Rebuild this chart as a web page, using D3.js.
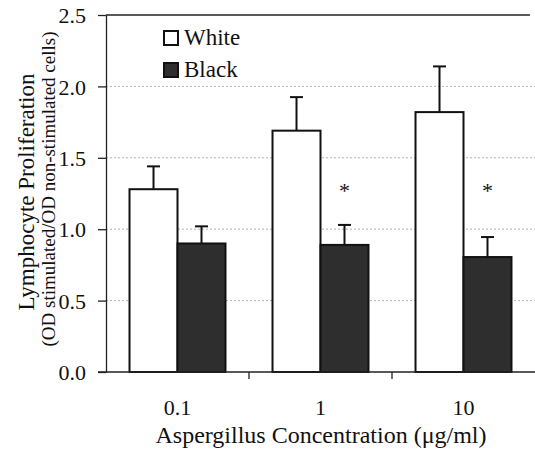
<!DOCTYPE html>
<html><head><meta charset="utf-8">
<script src="https://cdn.jsdelivr.net/npm/d3@7"></script>
<style>body{margin:0;background:#fff}svg{display:block}text{font-family:"Liberation Serif","Times New Roman",serif;fill:#111}</style>
</head><body><svg id="c" width="535" height="449"></svg>
<script>
const categories = ["0.1", "1", "10"];
const seriesNames = ["White", "Black"];
const whiteValues = [1.28, 1.69, 1.82];
const whiteErrors = [0.16, 0.235, 0.32];
const blackValues = [0.90, 0.89, 0.805];
const blackErrors = [0.12, 0.14, 0.14];
const asteriskLevel = [null, 1.22, 1.22];
const yTicks = [0, 0.5, 1.0, 1.5, 2.0, 2.5];

const svg = d3.select("#c");
const m = {left:106, right:535, top:15, bottom:372};
const x0 = d3.scaleBand().domain(categories).range([m.left, m.right]).padding(0);
const x1 = d3.scaleBand().domain(seriesNames).range([0, x0.bandwidth()]).paddingInner(0).paddingOuter(0.49);
const y = d3.scaleLinear().domain([0, 2.5]).range([m.bottom, m.top]);

// grid
svg.append("g").selectAll("line").data(yTicks.filter(d => d > 0 && d < 2.5)).join("line")
  .attr("x1", m.left).attr("x2", m.right).attr("y1", d => y(d)).attr("y2", d => y(d))
  .attr("stroke", "#b0b0b0").attr("stroke-width", 1).attr("stroke-dasharray", "2,2");
// top border
svg.append("line").attr("x1", m.left).attr("x2", 530).attr("y1", y(2.5)).attr("y2", y(2.5))
  .attr("stroke", "#222").attr("stroke-width", 1.3);

const series = [
  {name:"White", values: whiteValues, errors: whiteErrors, fill:"#fff"},
  {name:"Black", values: blackValues, errors: blackErrors, fill:"#2e2e2e"}
];
const data = [];
series.forEach(s => categories.forEach((c, i) => data.push({c, s: s.name, v: s.values[i], e: s.errors[i], fill: s.fill})));
const cx = d => x0(d.c) + x1(d.s) + x1.bandwidth()/2;

const g = svg.append("g");
g.selectAll("line.err").data(data).join("line").attr("class","err")
  .attr("x1", cx).attr("x2", cx)
  .attr("y1", d => y(d.v)).attr("y2", d => y(d.v + d.e)).attr("stroke", "#111").attr("stroke-width", 2);
g.selectAll("line.cap").data(data).join("line").attr("class","cap")
  .attr("x1", d => cx(d) - 6.5).attr("x2", d => cx(d) + 6.5)
  .attr("y1", d => y(d.v + d.e)).attr("y2", d => y(d.v + d.e)).attr("stroke", "#111").attr("stroke-width", 2);
g.selectAll("rect").data(data).join("rect")
  .attr("x", d => x0(d.c) + x1(d.s)).attr("width", x1.bandwidth())
  .attr("y", d => y(d.v)).attr("height", d => y(0) - y(d.v))
  .attr("fill", d => d.fill).attr("stroke", "#111").attr("stroke-width", 2);

// asterisks
svg.append("g").selectAll("text").data(categories.map((c, i) => ({c, lv: asteriskLevel[i]})).filter(d => d.lv != null)).join("text")
  .attr("x", d => x0(d.c) + x1("Black") + x1.bandwidth()/2)
  .attr("y", d => y(d.lv))
  .attr("text-anchor", "middle").attr("font-size", 22).text("*");

// y axis
const ya = svg.append("g").attr("transform", `translate(${m.left},0)`)
  .call(d3.axisLeft(y).tickValues(yTicks).tickFormat(d3.format(".1f")).tickSize(8).tickSizeOuter(0));
ya.select(".domain").attr("stroke", "#222").attr("stroke-width", 1.3);
ya.selectAll(".tick line").attr("stroke", "#222").attr("stroke-width", 1.3);
ya.selectAll(".tick text").attr("font-size", 22).attr("font-family", "Liberation Serif").attr("fill", "#111").attr("x", -20).attr("dy", "0.35em");

// x axis
svg.append("line").attr("x1", 98).attr("x2", m.right).attr("y1", m.bottom).attr("y2", m.bottom)
  .attr("stroke", "#222").attr("stroke-width", 1.3);
svg.append("g").selectAll("line").data(categories.slice(1)).join("line")
  .attr("x1", c => x0(c)).attr("x2", c => x0(c)).attr("y1", m.bottom).attr("y2", m.bottom + 7)
  .attr("stroke", "#222").attr("stroke-width", 1.3);
svg.append("g").selectAll("text").data(categories).join("text")
  .attr("x", c => x0(c) + x0.bandwidth()/2).attr("y", 415).attr("text-anchor", "middle")
  .attr("font-size", 22).text(d => d);

svg.append("text").attr("x", 321).attr("y", 443).attr("text-anchor", "middle").attr("font-size", 24)
  .text("Aspergillus Concentration (μg/ml)");

// y labels
svg.append("text").attr("transform", "translate(34,192) rotate(-90)").attr("text-anchor", "middle")
  .attr("font-size", 23).text("Lymphocyte Proliferation");
svg.append("text").attr("transform", "translate(55,189) rotate(-90)").attr("text-anchor", "middle")
  .attr("font-size", 19).text("(OD stimulated/OD non-stimulated cells)");

// legend
const lg = svg.append("g");
series.forEach((s, i) => {
  lg.append("rect").attr("x", 164).attr("y", 31 + i*32).attr("width", 14).attr("height", 14)
    .attr("fill", s.fill).attr("stroke", "#111").attr("stroke-width", 2);
  lg.append("text").attr("x", 184).attr("y", 45 + i*32).attr("font-size", 23).text(s.name);
});
</script></body></html>
